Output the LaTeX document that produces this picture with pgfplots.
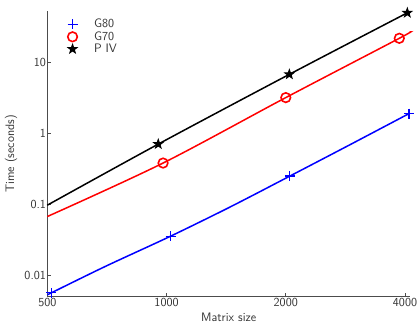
\documentclass[border=0pt]{standalone}
\usepackage{fontspec}
\usepackage{pgfplots}
\pgfplotsset{compat=1.18}
\pgfdeclareplotmark{pent}{%
  \pgfpathmoveto{\pgfpointpolar{90}{\pgfplotmarksize}}%
  \pgfpathlineto{\pgfpointpolar{126}{0.40\pgfplotmarksize}}%
  \pgfpathlineto{\pgfpointpolar{162}{\pgfplotmarksize}}%
  \pgfpathlineto{\pgfpointpolar{198}{0.40\pgfplotmarksize}}%
  \pgfpathlineto{\pgfpointpolar{234}{\pgfplotmarksize}}%
  \pgfpathlineto{\pgfpointpolar{270}{0.40\pgfplotmarksize}}%
  \pgfpathlineto{\pgfpointpolar{306}{\pgfplotmarksize}}%
  \pgfpathlineto{\pgfpointpolar{342}{0.40\pgfplotmarksize}}%
  \pgfpathlineto{\pgfpointpolar{18}{\pgfplotmarksize}}%
  \pgfpathlineto{\pgfpointpolar{54}{0.40\pgfplotmarksize}}%
  \pgfpathclose\pgfusepathqfillstroke}
\newcommand\lblfont{\fontsize{12.3bp}{14bp}\selectfont\sffamily}
\begin{document}
\lblfont
\begin{tikzpicture}
\useasboundingbox (0,0) rectangle (418bp,324bp);
\begin{axis}[
 at={(47.3bp,27.3bp)}, anchor=south west,
 scale only axis, width=362.7bp, height=285.7bp,
 xmode=log, ymode=log,
 xmin=500, xmax=4118, ymin=0.00494, ymax=53.7,
 axis x line=bottom, axis y line=left,
 axis line style={-, black!70, line width=0.6bp},
 tick align=inside, major tick length=4bp, minor tick length=0pt,
 tick style={black!70, line width=0.6bp},
 xtick={500,1000,2000,4000}, xticklabels={500,1000,2000,4000},
 ytick={0.01,0.1,1,10}, yticklabels={0.01,0.1,1,10},
 ticklabel style={font=\lblfont, text=black!80},
 xticklabel style={inner sep=1.2bp},
 yticklabel style={inner sep=1.2bp},
 xlabel={Matrix size}, ylabel={Time (seconds)},
 label style={font=\lblfont, text=black!80},
 xlabel style={at={(axis description cs:0.5,-0.072)}, anchor=center},
 ylabel style={at={(axis description cs:-0.1,0.5)}, anchor=center},
 clip=false,
 legend style={draw=none, fill=none, at={(0.047,0.982)}, anchor=north west,
   font=\lblfont, text=black!80,
   nodes={inner ysep=0.9bp, inner xsep=4.5bp},
   /tikz/every odd column/.append style={column sep=12bp}},
 legend cell align=left,
]
\addplot[blue, line width=1.5bp, smooth, forget plot] coordinates {(500,0.00525) (700,0.0132) (1024,0.0354) (1450,0.092) (2048,0.25) (2900,0.69) (4096,1.91)};
\addplot[red, line width=1.5bp, smooth, forget plot] coordinates {(500,0.067) (980,0.382) (2000,3.21) (3870,22.1) (4110,27)};
\addplot[black, line width=1.5bp, smooth, forget plot] coordinates {(500,0.097) (953,0.707) (2042,6.84) (4054,50.6)};
\addplot[blue, only marks, mark=+, mark size=5bp, line width=1.2bp] coordinates {(512,0.0056) (1024,0.0354) (2048,0.25) (4096,1.91)};
\addlegendentry{G80}
\addplot[red, only marks, mark=o, mark size=4.8bp, line width=1.6bp] coordinates {(980,0.382) (2000,3.21) (3870,22.1)};
\addlegendentry{G70}
\addplot[black, fill=black, only marks, mark=pent, mark size=4.6bp, line width=1bp] coordinates {(953,0.707) (2042,6.84) (4054,50.6)};
\addlegendentry{P IV}
\end{axis}
\end{tikzpicture}
\end{document}
